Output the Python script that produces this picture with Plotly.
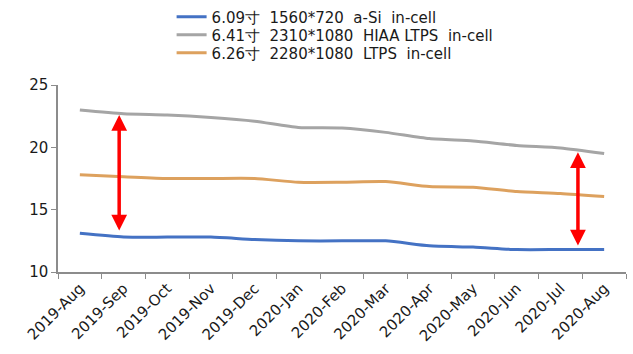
import plotly.graph_objects as go

months = ["2019-Aug", "2019-Sep", "2019-Oct", "2019-Nov", "2019-Dec", "2020-Jan",
          "2020-Feb", "2020-Mar", "2020-Apr", "2020-May", "2020-Jun", "2020-Jul", "2020-Aug"]

SP = " \u00a0"
series_names = ["6.09寸" + SP + "1560*720" + SP + "a-Si" + SP + "in-cell",
                "6.41寸" + SP + "2310*1080" + SP + "HIAA LTPS" + SP + "in-cell",
                "6.26寸" + SP + "2280*1080" + SP + "LTPS" + SP + "in-cell"]

asi_609 = [13.1, 12.8, 12.8, 12.8, 12.6, 12.5, 12.5, 12.5, 12.1, 12.0, 11.8, 11.8, 11.8]
hiaa_641 = [23.0, 22.7, 22.6, 22.4, 22.1, 21.6, 21.55, 21.2, 20.7, 20.5, 20.15, 19.95, 19.5]
ltps_626 = [17.8, 17.65, 17.5, 17.5, 17.5, 17.2, 17.2, 17.25, 16.85, 16.8, 16.45, 16.3, 16.05]

colors = ["#4472C4", "#A5A5A5", "#DDA15E"]

# double-headed arrows: category position, top value, bottom value
arrow_x = [0.9, 11.4]
arrow_top = [22.6, 19.6]
arrow_bottom = [13.2, 12.0]

y_ticks = [10, 15, 20, 25]

FONT = "DejaVu Sans"
TXT = "#1a1a1a"

legend_ids = ["legend", "legend2", "legend3"]
legend_rows_y = [1.364, 1.267, 1.171]

fig = go.Figure()
for name, vals, col, lid in zip(series_names, [asi_609, hiaa_641, ltps_626], colors, legend_ids):
    fig.add_trace(go.Scatter(
        x=months, y=vals, mode="lines", name=name, legend=lid,
        line=dict(color=col, width=3, shape="spline", smoothing=0.6),
    ))

for xa, yt, yb in zip(arrow_x, arrow_top, arrow_bottom):
    fig.add_annotation(
        x=xa, y=yt, ax=xa, ay=yb, xref="x", yref="y", axref="x", ayref="y",
        text="", showarrow=True, arrowhead=2, startarrowhead=2,
        arrowside="end+start", arrowwidth=3.5, arrowsize=0.9, startarrowsize=0.9,
        arrowcolor="#FF0000",
    )

legend_common = dict(
    x=0.2, xanchor="left", yanchor="middle",
    font=dict(family=FONT, size=15, color=TXT),
    bgcolor="rgba(0,0,0,0)",
)

fig.update_layout(
    width=633, height=354,
    margin=dict(l=58, r=7, t=85, b=82, autoexpand=False),
    paper_bgcolor="white", plot_bgcolor="white",
    font=dict(family=FONT, size=15, color=TXT),
    showlegend=True,
    legend=dict(y=legend_rows_y[0], **legend_common),
    legend2=dict(y=legend_rows_y[1], **legend_common),
    legend3=dict(y=legend_rows_y[2], **legend_common),
    xaxis=dict(
        type="category", showgrid=False, showline=True, linecolor="#8c8c8c", linewidth=1.5,
        ticks="outside", ticklen=5, tickcolor="#8c8c8c", tickson="boundaries",
        tickangle=-45, tickfont=dict(family=FONT, size=15, color=TXT),
        range=[-0.5, 12.5],
    ),
    yaxis=dict(
        range=[10, 25], tickvals=y_ticks, showgrid=False, showline=True,
        linecolor="#8c8c8c", linewidth=1.5, ticks="outside", ticklen=5,
        tickcolor="#8c8c8c", tickfont=dict(family=FONT, size=15, color=TXT),
        zeroline=False,
    ),
)

fig.write_html("out.html")
